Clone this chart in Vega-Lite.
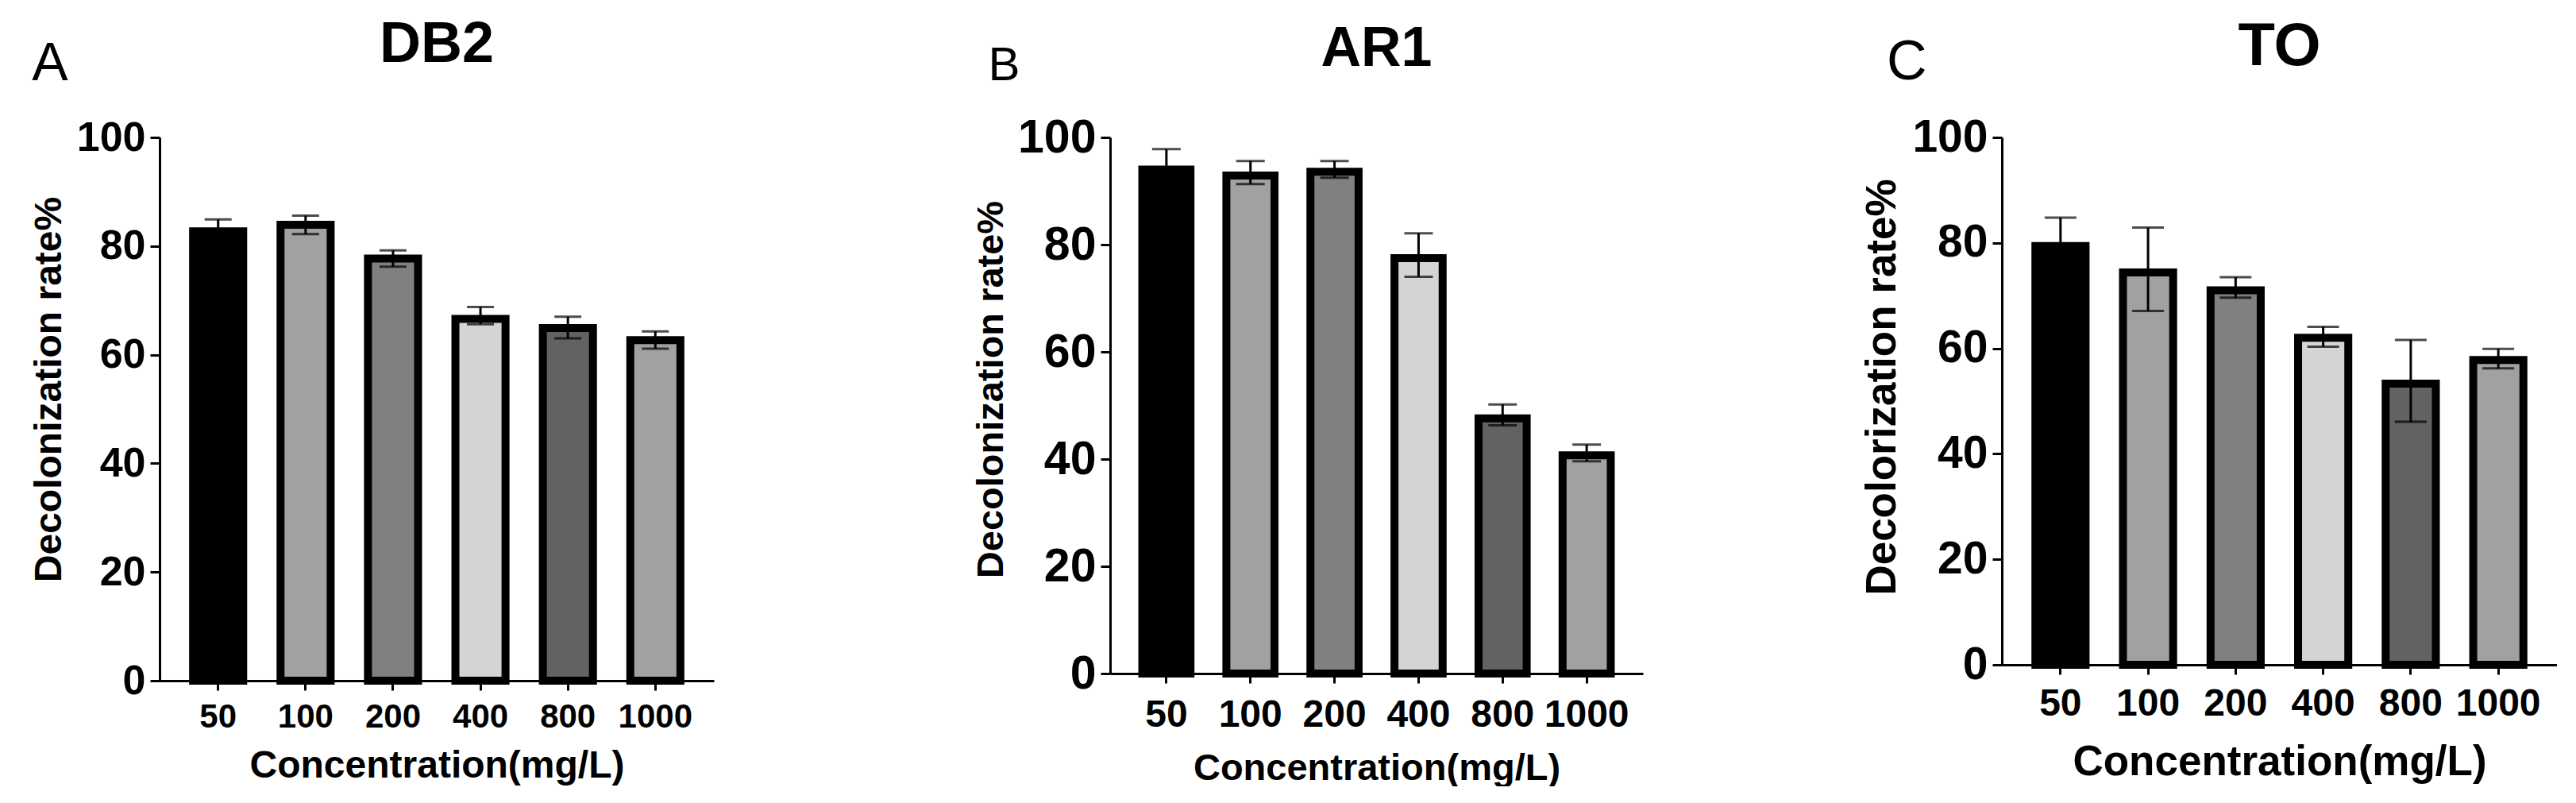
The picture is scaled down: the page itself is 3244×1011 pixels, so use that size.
{
  "$schema": "https://vega.github.io/schema/vega-lite/v6.json",
  "background": "white",
  "padding": {"left": 38, "top": 20, "right": 0, "bottom": 0},
  "config": {
    "view": {"stroke": null},
    "font": "Liberation Sans",
    "axis": {"grid": false, "domainColor": "black", "tickColor": "black", "labelColor": "black", "titleColor": "black", "domainWidth": 3, "tickWidth": 3, "tickSize": 12, "labelFont": "Liberation Sans", "labelFontWeight": "bold", "titleFont": "Liberation Sans", "titleFontWeight": "bold"},
    "title": {"font": "Liberation Sans", "color": "black"}
  },
  "datasets": {
    "db2": [
      {"conc": "50", "mean": 82.7, "lo": 80.5, "hi": 84.9},
      {"conc": "100", "mean": 83.9, "lo": 82.2, "hi": 85.6},
      {"conc": "200", "mean": 77.7, "lo": 76.2, "hi": 79.2},
      {"conc": "400", "mean": 66.6, "lo": 65.6, "hi": 68.8},
      {"conc": "800", "mean": 64.9, "lo": 63.0, "hi": 67.0},
      {"conc": "1000", "mean": 62.7, "lo": 61.1, "hi": 64.3}
    ],
    "ar1": [
      {"conc": "50", "mean": 94.0, "lo": 90.2, "hi": 97.8},
      {"conc": "100", "mean": 92.9, "lo": 91.3, "hi": 95.6},
      {"conc": "200", "mean": 93.6, "lo": 92.5, "hi": 95.6},
      {"conc": "400", "mean": 77.5, "lo": 74.0, "hi": 82.1},
      {"conc": "800", "mean": 47.6, "lo": 46.3, "hi": 50.2},
      {"conc": "1000", "mean": 40.7, "lo": 39.6, "hi": 42.7}
    ],
    "to": [
      {"conc": "50", "mean": 79.4, "lo": 75.0, "hi": 84.8},
      {"conc": "100", "mean": 74.4, "lo": 67.1, "hi": 82.9},
      {"conc": "200", "mean": 71.0, "lo": 69.6, "hi": 73.5},
      {"conc": "400", "mean": 62.0, "lo": 60.3, "hi": 64.1},
      {"conc": "800", "mean": 53.3, "lo": 46.1, "hi": 61.6},
      {"conc": "1000", "mean": 57.8, "lo": 56.2, "hi": 59.9}
    ]
  },
  "hconcat": [
    {
      "hconcat": [
        {
          "title": {"text": "A", "anchor": "start", "frame": "bounds", "offset": -149, "dx": 2, "fontSize": 68, "fontWeight": "normal", "baseline": "alphabetic"},
          "vconcat": [
            {
              "title": {"text": "DB2", "fontSize": 72, "fontWeight": "bold", "anchor": "middle", "frame": "group", "offset": -3, "baseline": "alphabetic"},
              "width": 698, "height": 684,
              "data": {"name": "db2"},
              "encoding": {
                "x": {"field": "conc", "type": "nominal", "sort": null, "title": "Concentration(mg/L)",
                  "scale": {"paddingInner": 0.427, "paddingOuter": 0.383},
                  "axis": {"labelAngle": 0, "labelFontSize": 42, "labelPadding": 13, "titleFontSize": 48, "titlePadding": 17}}
              },
              "layer": [
                {"mark": {"type": "bar", "stroke": "black", "strokeWidth": 10},
                 "encoding": {
                   "y": {"field": "mean", "type": "quantitative", "scale": {"domain": [0, 100]}, "title": "Decolonization rate%",
                     "axis": {"values": [0, 20, 40, 60, 80, 100], "labelFontSize": 52, "labelPadding": 6, "titleFontSize": 48, "titlePadding": 10, "titleY": 317}},
                   "fill": {"field": "conc", "type": "nominal", "sort": null, "legend": null,
                     "scale": {"range": ["#000000", "#a1a1a3", "#808080", "#d4d4d4", "#626262", "#a1a1a3"]}}
                 }},
                {"mark": {"type": "rule", "color": "black", "strokeWidth": 3},
                 "encoding": {"y": {"field": "lo", "type": "quantitative"}, "y2": {"field": "hi"}}},
                {"mark": {"type": "tick", "color": "black", "thickness": 3, "size": 34},
                 "encoding": {"y": {"field": "hi", "type": "quantitative"}}},
                {"mark": {"type": "tick", "color": "black", "thickness": 3, "size": 34},
                 "encoding": {"y": {"field": "lo", "type": "quantitative"}}}
              ]
            }
          ]
        },
        {
          "title": {"text": "B", "anchor": "start", "frame": "bounds", "offset": -134, "dx": 20, "fontSize": 60, "fontWeight": "normal", "baseline": "alphabetic"},
          "vconcat": [
            {
              "title": {"text": "AR1", "fontSize": 70, "fontWeight": "bold", "anchor": "middle", "frame": "group", "offset": -9, "baseline": "alphabetic"},
              "width": 671, "height": 675,
              "data": {"name": "ar1"},
              "encoding": {
                "x": {"field": "conc", "type": "nominal", "sort": null, "title": "Concentration(mg/L)",
                  "scale": {"paddingInner": 0.427, "paddingOuter": 0.383},
                  "axis": {"labelAngle": 0, "labelFontSize": 48, "labelPadding": 16, "titleFontSize": 47, "titlePadding": 20}}
              },
              "layer": [
                {"mark": {"type": "bar", "stroke": "black", "strokeWidth": 10},
                 "encoding": {
                   "y": {"field": "mean", "type": "quantitative", "scale": {"domain": [0, 100]}, "title": "Decolonization rate%",
                     "axis": {"values": [0, 20, 40, 60, 80, 100], "labelFontSize": 59, "labelPadding": 6, "titleFontSize": 47, "titlePadding": 9, "titleY": 317}},
                   "fill": {"field": "conc", "type": "nominal", "sort": null, "legend": null,
                     "scale": {"range": ["#000000", "#a1a1a3", "#808080", "#d4d4d4", "#626262", "#a1a1a3"]}}
                 }},
                {"mark": {"type": "rule", "color": "black", "strokeWidth": 3},
                 "encoding": {"y": {"field": "lo", "type": "quantitative"}, "y2": {"field": "hi"}}},
                {"mark": {"type": "tick", "color": "black", "thickness": 3, "size": 36},
                 "encoding": {"y": {"field": "hi", "type": "quantitative"}}},
                {"mark": {"type": "tick", "color": "black", "thickness": 3, "size": 36},
                 "encoding": {"y": {"field": "lo", "type": "quantitative"}}}
              ]
            }
          ]
        }
      ],
      "spacing": 325
    },
    {
      "title": {"text": "C", "anchor": "start", "frame": "bounds", "offset": -149, "dx": 31, "fontSize": 70, "fontWeight": "normal", "baseline": "alphabetic"},
      "vconcat": [
        {
          "title": {"text": "TO", "fontSize": 76, "fontWeight": "bold", "anchor": "middle", "frame": "group", "offset": -14, "baseline": "alphabetic"},
          "width": 699, "height": 664,
          "data": {"name": "to"},
          "encoding": {
            "x": {"field": "conc", "type": "nominal", "sort": null, "title": "Concentration(mg/L)",
              "scale": {"paddingInner": 0.427, "paddingOuter": 0.383},
              "axis": {"labelAngle": 0, "labelFontSize": 48, "labelPadding": 13, "titleFontSize": 53, "titlePadding": 23}}
          },
          "layer": [
            {"mark": {"type": "bar", "stroke": "black", "strokeWidth": 10},
             "encoding": {
               "y": {"field": "mean", "type": "quantitative", "scale": {"domain": [0, 100]}, "title": "Decolorization rate%",
                 "axis": {"values": [0, 20, 40, 60, 80, 100], "labelFontSize": 57, "labelPadding": 6, "titleFontSize": 53, "titlePadding": 10, "titleY": 314}},
               "fill": {"field": "conc", "type": "nominal", "sort": null, "legend": null,
                 "scale": {"range": ["#000000", "#a1a1a3", "#808080", "#d4d4d4", "#626262", "#a1a1a3"]}}
             }},
            {"mark": {"type": "rule", "color": "black", "strokeWidth": 3},
             "encoding": {"y": {"field": "lo", "type": "quantitative"}, "y2": {"field": "hi"}}},
            {"mark": {"type": "tick", "color": "black", "thickness": 3, "size": 40},
             "encoding": {"y": {"field": "hi", "type": "quantitative"}}},
            {"mark": {"type": "tick", "color": "black", "thickness": 3, "size": 40},
             "encoding": {"y": {"field": "lo", "type": "quantitative"}}}
          ]
        }
      ]
    }
  ],
  "spacing": 275
}
